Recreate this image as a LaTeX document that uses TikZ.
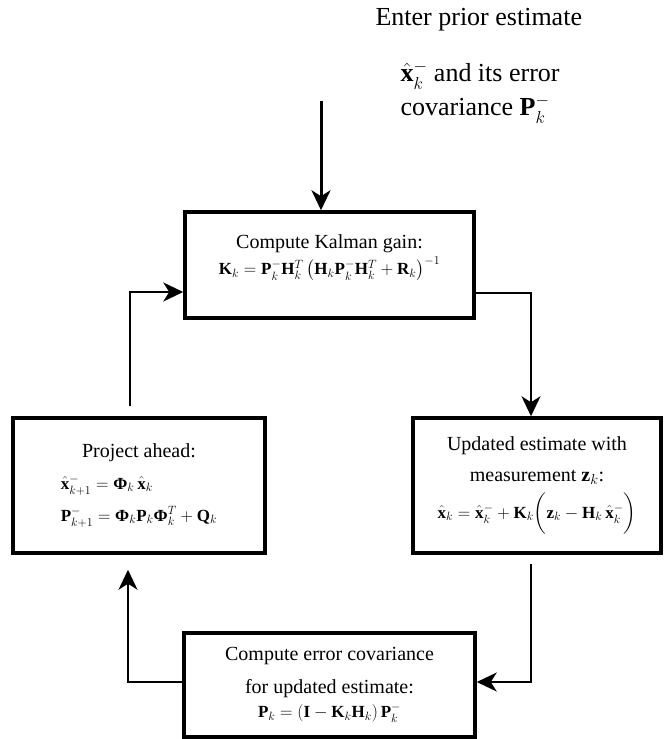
\documentclass[tikz,border=0pt]{standalone}
\usepackage{amsmath}
\usepackage{fontspec}
\setmainfont{Liberation Serif}
\usetikzlibrary{arrows.meta}

\def \boxLine {3.5pt}
\def \wireLine {1.8pt}
\newcommand{\PhiB}{\textbf{Φ}}
\newcommand{\fsize}{\fontsize{17}{21}\selectfont}

\begin{document}
\begin{tikzpicture}[x=1pt, y=-1pt,
    stage/.style={draw, line width=\boxLine, align=center, inner sep=0pt,
      font=\fontsize{20}{24}\selectfont},
    wire/.style={line width=\wireLine, -{Stealth[length=20pt, width=19pt, inset=6pt]}}]
  \useasboundingbox (0,0) rectangle (666,739);

  \node[align=left, anchor=north west, font=\fontsize{26}{34}\selectfont] (prior) at (372,5)
    {Enter prior estimate\\[22pt]
     \hspace*{25pt}$\hat{\mathbf{x}}_k^-$ and its error\\
     \hspace*{25pt}covariance $\mathbf{P}_k^-$};

  \node[stage, minimum width=289pt, minimum height=106pt] (gain) at (329.5,265)
    {Compute Kalman gain:\\[2pt]
     {\fsize$\mathbf{K}_k = \mathbf{P}_k^-\mathbf{H}_k^T\left(\mathbf{H}_k\mathbf{P}_k^-\mathbf{H}_k^T + \mathbf{R}_k\right)^{-1}$}\rule[-20pt]{0pt}{0pt}};

  \node[stage, minimum width=252pt, minimum height=135pt] (project) at (139,485.5)
    {Project ahead:\\[12pt]
     {\fsize\begin{tabular}{@{}l@{}}
       $\hat{\mathbf{x}}_{k+1}^- = \PhiB_k\,\hat{\mathbf{x}}_k$\\[11pt]
       $\mathbf{P}_{k+1}^- = \PhiB_k\mathbf{P}_k\PhiB_k^T + \mathbf{Q}_k$
     \end{tabular}}\rule[-12pt]{0pt}{0pt}};

  \node[stage, minimum width=248pt, minimum height=135pt] (update) at (537,485.5)
    {Updated estimate with\\[7pt]
     measurement $\mathbf{z}_k$:\\[8pt]
     {\fsize$\hat{\mathbf{x}}_k = \hat{\mathbf{x}}_k^- + \mathbf{K}_k\bigg(\mathbf{z}_k - \mathbf{H}_k\,\hat{\mathbf{x}}_k^-\bigg)$}};

  \node[stage, minimum width=291pt, minimum height=104pt] (cov) at (329.5,685)
    {Compute error covariance\\[9pt]
     for updated estimate:\\
     {\fsize$\mathbf{P}_k = \left(\mathbf{I} - \mathbf{K}_k\mathbf{H}_k\right)\mathbf{P}_k^-$}};

  % loop connectors
  \coordinate (feed) at (321,101);
  \draw[wire, line width=3pt] (feed) -- (feed |- gain.north);
  \draw[wire] ([yshift=-28pt]gain.east) -| ([xshift=-6pt]update.north);
  \draw[wire] ([xshift=-6pt, yshift=-9pt]update.south) |- ([yshift=3pt]cov.east);
  \draw[wire] ([yshift=3pt]cov.west) -| ([xshift=-11pt, yshift=-15pt]project.south);
  \draw[wire] ([xshift=-9pt, yshift=10pt]project.north) |- ([yshift=-27pt]gain.west);
\end{tikzpicture}
\end{document}
